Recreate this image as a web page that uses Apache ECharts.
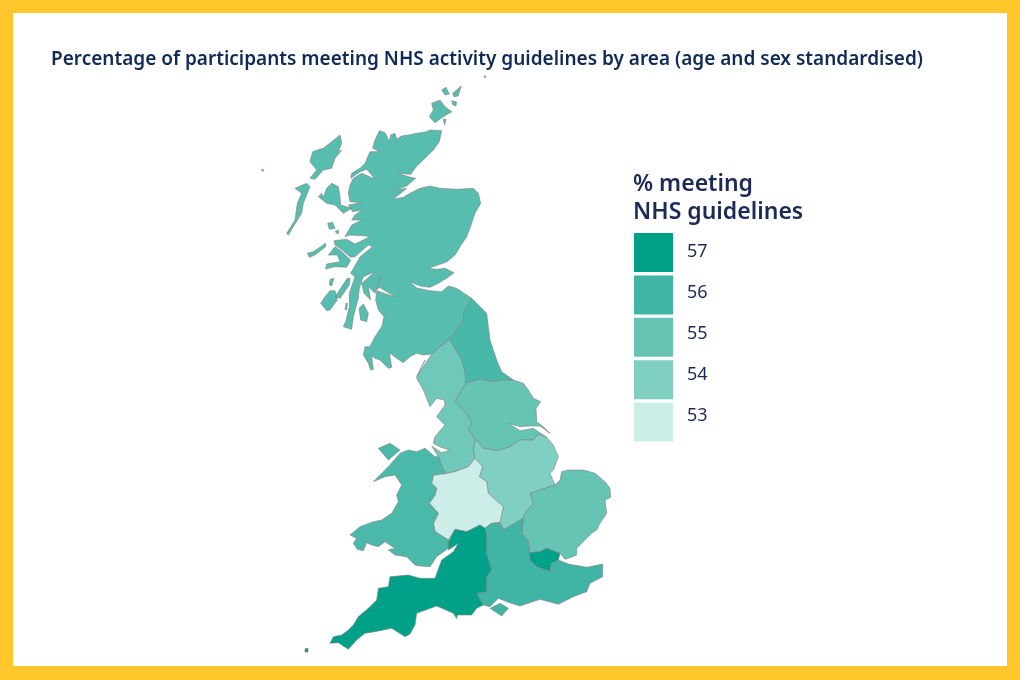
<!DOCTYPE html>
<html><head><meta charset="utf-8">
<style>html,body{margin:0;padding:0;background:#fff}#c{width:1020px;height:680px}</style>
<script src="https://cdn.jsdelivr.net/npm/echarts@6/dist/echarts.min.js"></script>
</head><body><div id="c"></div>
<script>
const titleText = "Percentage of participants meeting NHS activity guidelines by area (age and sex standardised)";
const legendTitle = "% meeting\nNHS guidelines";
const legendValues = [57, 56, 55, 54, 53];
const legendColors = ["#00A188", "#40B5A5", "#66C4B5", "#80CFC3", "#CCEDE8"];
const regionNames = ["Scotland","North East","North West","Yorkshire and The Humber","East Midlands","West Midlands","Wales","East of England","London","South East","South West"];
const regionValues = [55.4, 55.8, 54.6, 55, 54, 53, 55.7, 55, 57, 56, 57];

// Region outlines (a = crop 1 space, b = crop 2 space)
const a = p => p.map(([x,y]) => [260 + x/3, 680 - (80 + y/3)]);
const b = p => p.map(([x,y]) => [320 + x/3, 680 - (360 + y/3)]);
const scotlandMain = a([[358,152],[375,158],[382,172],[388,185],[392,165],[405,160],[410,178],[425,168],[445,165],[470,160],[500,155],[510,150],[545,152],[538,185],[520,210],[495,235],[470,258],[452,283],[412,280],[452,292],[467,295],[440,318],[408,330],[440,325],[400,358],[430,352],[450,340],[480,325],[510,318],[540,325],[590,328],[640,325],[655,340],[662,370],[645,400],[635,430],[620,470],[600,500],[585,525],[560,546],[505,565],[530,568],[555,565],[582,578],[560,595],[535,610],[510,622],[480,618],[450,605],[470,624],[510,632],[545,635],[565,618],[590,625],[635,655],[610,700],[610,720],[590,750],[570,780],[540,800],[515,822],[490,825],[470,820],[450,830],[430,848],[410,835],[388,818],[395,862],[385,865],[360,840],[345,835],[335,828],[340,868],[332,870],[325,850],[310,825],[315,800],[330,800],[335,790],[345,770],[365,740],[372,710],[355,690],[347,660],[350,632],[408,652],[358,622],[350,630],[362,590],[345,640],[325,620],[332,660],[312,640],[305,610],[345,575],[310,590],[298,625],[295,655],[280,710],[275,748],[250,740],[258,722],[268,680],[268,640],[285,590],[272,580],[300,530],[338,500],[325,495],[285,530],[272,532],[240,505],[225,495],[222,482],[260,478],[285,492],[330,470],[310,467],[270,465],[255,470],[275,435],[305,420],[275,420],[285,405],[305,390],[278,395],[265,375],[305,368],[270,365],[265,340],[270,315],[280,295],[305,280],[345,297],[320,268],[300,275],[272,295],[275,280],[300,265],[315,250],[330,215],[360,215],[338,205],[345,180]]);
const skye = a([[175,350],[185,340],[190,352],[200,325],[215,310],[235,320],[240,350],[242,375],[275,385],[250,400],[225,375],[200,370]]);
const lewis = a([[240,165],[245,190],[235,215],[245,210],[225,235],[215,265],[190,270],[165,298],[150,295],[170,270],[150,245],[158,215],[178,208],[190,205]]);
const uist = a([[105,325],[140,310],[150,320],[130,370],[125,400],[100,440],[85,465],[80,460],[105,420],[112,370],[125,340]]);
const mull = a([[205,525],[225,500],[240,510],[272,540],[260,562],[225,560],[197,567],[200,552],[240,545],[232,525]]);
const tiree = a([[142,520],[160,515],[197,490],[197,500],[165,525],[148,532]]);
const rum = a([[203,430],[218,427],[225,445],[208,448]]);
const eigg = a([[225,455],[235,450],[235,462]]);
const jura = a([[262,595],[270,595],[268,615],[240,655],[225,650]]);
const islay = a([[210,632],[225,632],[232,660],[210,690],[200,692],[182,670],[195,650]]);
const colonsay = a([[210,598],[222,595],[215,618],[208,615]]);
const arran = a([[297,685],[310,672],[325,700],[320,725],[302,720]]);
const gigha = a([[258,670],[262,670],[260,690],[255,688]]);
const orkney = a([[515,70],[540,60],[555,80],[575,95],[550,110],[525,128],[508,110],[520,90]]);
const orkneyA = a([[545,30],[558,22],[568,42],[555,45]]);
const orkneyB = a([[578,40],[604,18],[594,48],[582,50]]);
const orkneyC = a([[575,62],[590,66],[588,78],[578,74]]);
const orkneyD = a([[550,118],[558,118],[554,135]]);
const stKilda = a([[3,270],[10,268],[10,274]]);
const speck = [[484,76],[486,76],[485,78]].map(([x,y]) => [x, 680-y]);
const northEast = b([[437,70],[480,58],[520,65],[550,60],[580,60],[545,35],[530,0]]).concat(a([[690,780],[680,700],[635,655],[610,700],[610,720],[590,750],[570,780]]), b([[425,0],[435,40]]));
const northWest = a([[570,780],[540,800],[515,822],[470,890]]).concat(b([[315,0],[290,55],[310,90],[330,140],[350,115],[373,120],[375,135],[350,170],[375,195],[345,230],[340,250],[362,262],[390,270],[365,278],[335,258],[355,290],[370,330],[380,340],[405,335],[445,320],[465,295],[460,270],[467,238],[445,210],[455,190],[440,160],[405,125],[437,70],[435,40],[425,0]]));
const yorkshire = b([[437,70],[480,58],[520,65],[550,60],[580,60],[610,70],[625,90],[640,115],[662,125],[648,145],[650,185],[670,200],[690,220],[660,198],[630,198],[600,200],[565,190],[600,212],[640,205],[665,222],[680,232],[655,222],[640,240],[600,240],[570,260],[535,272],[490,265],[467,238],[445,210],[455,190],[440,160],[405,125]]);
const eastMidlands = b([[467,238],[490,265],[535,272],[570,260],[600,240],[640,240],[655,222],[680,232],[700,255],[715,290],[700,330],[690,340],[705,375],[630,400],[640,430],[615,460],[610,475],[575,495],[550,510],[540,488],[550,440],[505,400],[500,365],[478,350],[488,320],[465,295],[460,270]]);
const westMidlands = b([[380,340],[405,335],[445,320],[465,295],[488,320],[478,350],[500,365],[505,400],[550,440],[540,488],[515,490],[495,505],[480,495],[440,515],[405,508],[385,540],[345,515],[340,490],[355,460],[328,430],[345,405],[350,385],[335,370],[340,345]]);
const wales = b([[240,280],[265,270],[290,275],[315,265],[345,290],[355,290],[370,330],[380,340],[340,345],[335,370],[350,385],[345,405],[328,430],[355,460],[340,490],[345,515],[385,540],[385,565],[350,590],[330,620],[300,618],[285,615],[260,590],[225,585],[205,570],[225,565],[195,545],[175,560],[155,555],[140,548],[130,572],[112,568],[100,550],[110,535],[90,525],[120,500],[160,485],[185,480],[215,460],[235,425],[230,405],[245,375],[225,345],[195,350],[160,365],[205,320]]);
const anglesey = b([[175,265],[210,250],[240,270],[205,300]]);
const east = b([[705,375],[720,360],[725,335],[745,330],[790,330],[825,340],[855,365],[870,385],[872,412],[855,420],[860,460],[840,490],[830,510],[815,520],[800,535],[785,550],[770,565],[770,585],[745,595],[735,598],[720,580],[680,565],[660,575],[628,578],[625,545],[605,520],[610,475],[615,460],[640,430],[630,400]]);
const london = b([[628,578],[660,575],[680,565],[720,580],[715,600],[695,610],[690,635],[650,620],[630,600]]);
const southEast = b([[495,505],[515,490],[540,488],[550,510],[575,495],[610,475],[605,520],[625,545],[628,578],[630,600],[650,620],[690,635],[695,610],[715,600],[745,612],[800,622],[848,612],[848,650],[810,670],[800,695],[760,710],[715,733],[660,718],[600,738],[560,725],[535,715],[510,740],[490,735],[470,700],[500,695],[500,650],[515,630],[500,580],[500,530]]);
const wight = b([[510,745],[540,730],[565,745],[545,768]]);
const southWest = b([[405,508],[385,545],[385,570],[415,550],[400,575],[365,600],[345,655],[300,655],[265,645],[210,650],[205,680],[175,685],[170,720],[145,745],[115,770],[100,795],[85,810],[65,825],[40,830],[30,850],[55,848],[85,868],[110,840],[135,820],[165,815],[215,805],[255,830],[270,822],[285,795],[290,760],[350,738],[400,760],[410,776],[412,765],[455,765],[470,745],[490,735],[470,700],[500,695],[500,650],[515,630],[500,580],[500,530],[495,505],[480,495],[440,515]]);
const scilly = [[305,649],[308,648],[308,652],[305,652]].map(([x,y]) => [x, 680-y]);
const regionShapes = [
  [scotlandMain,skye,lewis,uist,mull,tiree,rum,eigg,jura,islay,colonsay,arran,gigha,orkney,orkneyA,orkneyB,orkneyC,orkneyD,stKilda,speck],
  [northEast],[northWest],[yorkshire],[eastMidlands],[westMidlands],[wales,anglesey],[east],[london],[southEast,wight],[southWest,scilly]
];
const closeRing = r => r.concat([r[0]]);
const geojson = {type:"FeatureCollection",features:regionNames.map((name,i)=>({
  type:"Feature",properties:{name},
  geometry:{type:"MultiPolygon",coordinates:regionShapes[i].map(r=>[closeRing(r)])}
}))};
echarts.registerMap("gb", geojson);

const chart = echarts.init(document.getElementById("c"), null, {renderer:"canvas"});
const FONT = '"Noto Sans", sans-serif';
chart.setOption({
  backgroundColor:"#FFC72C",
  animation:false,
  graphic:[{type:"rect",z:-10,silent:true,shape:{x:13,y:13,width:994,height:653},style:{fill:"#fff"}}]
    .concat(legendValues.map((v,i)=>({type:"text",silent:true,x:687,y:252+i*41,
      style:{text:String(v),fontFamily:FONT,fontSize:18,fill:"#1B2A57",verticalAlign:"middle"}}))),
  title:[
    {text:titleText,left:46,top:45,textStyle:{fontFamily:FONT,fontWeight:600,fontSize:19,color:"#0F2A56"}},
    {text:legendTitle,left:628,top:165,textStyle:{fontFamily:FONT,fontWeight:600,fontSize:23,lineHeight:28,color:"#1B2A57"}}
  ],
  visualMap:[
    {type:"continuous",show:false,seriesIndex:0,min:53,max:57,inRange:{color:legendColors.slice().reverse()}},
    {type:"piecewise",seriesIndex:1,orient:"vertical",left:619,top:218,itemWidth:39,itemHeight:39,itemGap:3.4,itemSymbol:"rect",textGap:14,align:"left",selectedMode:false,hoverLink:false,
     pieces:legendValues.map((v,i)=>({value:v,label:" ",color:legendColors[i]})),
     textStyle:{fontFamily:FONT,fontSize:18,color:"#1B2A57"}}
  ],
  series:[
    {type:"map",map:"gb",roam:false,silent:true,aspectScale:1,
     boundingCoords:[[0,680],[1020,0]],left:0,top:0,width:1020,height:680,
     label:{show:false},
     itemStyle:{borderColor:"#7F7F7F",borderWidth:0.6},
     emphasis:{disabled:true},
     data:regionNames.map((name,i)=>({name,value:regionValues[i]}))},
    {type:"pie",data:[],showEmptyCircle:false,silent:true}
  ]
});
</script></body></html>
